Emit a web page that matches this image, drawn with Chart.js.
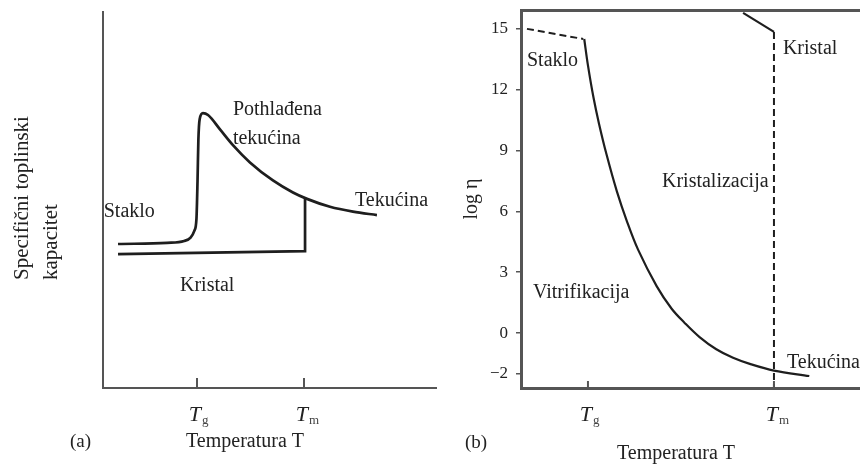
<!DOCTYPE html>
<html><head><meta charset="utf-8">
<script src="https://cdn.jsdelivr.net/npm/chart.js@4.4.1/dist/chart.umd.min.js"></script>
<style>
html,body{margin:0;padding:0;background:#fff;width:860px;height:469px;overflow:hidden;}
#wa{position:absolute;left:0;top:0;width:440px;height:469px;}
#wb{position:absolute;left:440px;top:0;width:420px;height:469px;}
canvas{display:block;}
</style></head><body>
<div id="wa"><canvas id="ca" width="440" height="469"></canvas></div>
<div id="wb"><canvas id="cb" width="420" height="469"></canvas></div>
<script>
// ---------- DATA ----------
// characteristic temperatures on the x axis (T_g, T_m)
const tempTicks = [1, 2];
const tempTickSubs = ['g', 'm'];

// Panel (a): specific heat capacity (arbitrary units) vs temperature
const glassTempA = [0.262, 0.72, 0.88, 0.94, 0.975, 0.995, 1.005, 1.013, 1.025, 1.056, 1.103, 1.215, 1.336, 1.495, 1.71, 1.897, 2.028, 2.243, 2.458, 2.682];
const glassCpA   = [38.3, 38.6, 39.1, 40.0, 41.8, 45.0, 55.0, 66.0, 71.5, 73.1, 72.6, 68.8, 64.6, 60.0, 55.2, 52.0, 50.3, 48.2, 46.9, 46.0];
const crystalTempA = [0.262, 2.01, 2.01];
const crystalCpA   = [35.6, 36.4, 50.3];

// Panel (b): log viscosity vs temperature
const logEtaTicks = [-2, 0, 3, 6, 9, 12, 15];
const glassTempB = [0.672, 0.975];
const glassEtaB  = [15.0, 14.5];
const liquidTempB = [0.98, 1.0, 1.03, 1.06, 1.10, 1.155, 1.21, 1.27, 1.37, 1.45, 1.52, 1.60, 1.69, 1.78, 1.87, 2.0, 2.19];
const liquidEtaB  = [14.5, 13.2, 11.6, 10.3, 8.8, 7.0, 5.5, 4.1, 2.3, 1.2, 0.5, -0.2, -0.8, -1.22, -1.52, -1.85, -2.12];
const crystalTempB = [1.834, 2.0];
const crystalEtaB  = [15.79, 14.85];
const meltTempB = [2.0, 2.0];
const meltEtaB  = [14.85, -2.71];

// ---------- STYLE ----------
const FONT = '"Liberation Serif", "Times New Roman", serif';
const INK = '#222';
const LINE = '#1e1e1e';
const AXIS = '#555';

const pts = (xs, ys) => xs.map((x, i) => ({x, y: ys[i]}));
const zeroPad = s => { s.paddingLeft = 0; s.paddingRight = 0; s.paddingTop = 0; s.paddingBottom = 0; };
const line = (xs, ys, extra) => Object.assign({
  data: pts(xs, ys), showLine: true, pointRadius: 0, borderColor: LINE,
  borderWidth: 2.5, fill: false, tension: 0
}, extra || {});
const bare = (min, max, width, extra) => Object.assign({
  type: 'linear', min, max,
  ticks: {display: false}, grid: {display: false, drawTicks: false},
  border: {display: true, color: AXIS, width}, afterFit: zeroPad
}, extra || {});

function drawText(ctx, text, x, y, size, opts) {
  opts = opts || {};
  ctx.font = (opts.italic ? 'italic ' : '') + size + 'px ' + FONT;
  ctx.textAlign = opts.align || 'left';
  ctx.textBaseline = opts.baseline || 'middle';
  ctx.fillStyle = opts.color || INK;
  ctx.fillText(text, x, y);
}

function tempAxisPlugin(tickLen, labels, extras) {
  return {
    id: 'annot',
    afterDraw(chart) {
      const {ctx, chartArea} = chart;
      const xs = chart.scales.x, ys = chart.scales.y;
      ctx.save();
      // inward ticks and T_g / T_m labels
      ctx.strokeStyle = AXIS; ctx.lineWidth = 2;
      tempTicks.forEach((t, i) => {
        const px = xs.getPixelForValue(t);
        ctx.beginPath();
        ctx.moveTo(px, chartArea.bottom);
        ctx.lineTo(px, chartArea.bottom - tickLen);
        ctx.stroke();
        drawText(ctx, 'T', px + 4, chartArea.bottom + 33, 22, {italic: true, align: 'right', baseline: 'alphabetic'});
        drawText(ctx, tempTickSubs[i], px + 5, chartArea.bottom + 36, 13, {baseline: 'alphabetic', color: '#444'});
      });
      // in-plot labels positioned in data coordinates
      labels.forEach(l => {
        drawText(ctx, l.text, xs.getPixelForValue(l.x), ys.getPixelForValue(l.y), 20);
      });
      extras(ctx, chartArea);
      ctx.restore();
    }
  };
}

// ---------- PANEL (a) ----------
const labelsA = [
  {text: 'Staklo', x: 0.128, y: 46.8},
  {text: 'Pothlađena', x: 1.336, y: 73.9},
  {text: 'tekućina', x: 1.336, y: 66.2},
  {text: 'Tekućina', x: 2.477, y: 49.7},
  {text: 'Kristal', x: 0.841, y: 27.1}
];
new Chart(document.getElementById('ca'), {
  type: 'scatter',
  data: {datasets: [
    line(glassTempA, glassCpA, {cubicInterpolationMode: 'monotone', borderWidth: 2.7}),
    line(crystalTempA, crystalCpA, {borderWidth: 2.7})
  ]},
  options: {
    responsive: false, animation: false, events: [],
    layout: {padding: {left: 103, right: 4, top: 12, bottom: 81}},
    plugins: {legend: {display: false}, tooltip: {enabled: false}},
    scales: {
      x: bare(0.1215, 3.234, 2),
      y: bare(0, 100, 2)
    }
  },
  plugins: [tempAxisPlugin(10, labelsA, (ctx, ca) => {
    ctx.save();
    ctx.translate(22, 280);
    ctx.rotate(-Math.PI / 2);
    drawText(ctx, 'Specifični toplinski', 0, 0, 21);
    drawText(ctx, 'kapacitet', 0, 29, 21);
    ctx.restore();
    drawText(ctx, '(a)', 70, 442, 19);
    drawText(ctx, 'Temperatura T', 245, 442, 20, {align: 'center'});
  })]
});

// ---------- PANEL (b) ----------
const labelsB = [
  {text: 'Staklo', x: 0.672, y: 13.42},
  {text: 'Kristal', x: 2.048, y: 14.0},
  {text: 'Kristalizacija', x: 1.398, y: 7.45},
  {text: 'Vitrifikacija', x: 0.704, y: 1.97},
  {text: 'Tekućina', x: 2.07, y: -1.45}
];
new Chart(document.getElementById('cb'), {
  type: 'scatter',
  data: {datasets: [
    line(glassTempB, glassEtaB, {borderDash: [7, 4], borderWidth: 2}),
    line(liquidTempB, liquidEtaB, {tension: 0.35, borderWidth: 2.2}),
    line(crystalTempB, crystalEtaB, {borderWidth: 2.2}),
    line(meltTempB, meltEtaB, {borderDash: [7, 4], borderWidth: 2})
  ]},
  options: {
    responsive: false, animation: false, events: [],
    layout: {padding: {left: 20, right: 0, top: 10, bottom: 81}},
    plugins: {legend: {display: false}, tooltip: {enabled: false}},
    scales: {
      x: bare(0.64, 2.4626, 3),
      xTop: bare(0.64, 2.4626, 3, {axis: 'x', position: 'top'}),
      y: {
        type: 'linear', min: -2.71, max: 15.93,
        afterBuildTicks: s => { s.ticks = logEtaTicks.map(v => ({value: v})); },
        ticks: {
          color: INK, padding: 8, autoSkip: false,
          font: {family: FONT, size: 17},
          callback: v => (v < 0 ? '\u2212' + Math.abs(v) : String(v))
        },
        grid: {display: true, drawOnChartArea: false, drawTicks: true, tickLength: 5, color: AXIS, lineWidth: 1.5},
        border: {display: true, color: AXIS, width: 3},
        title: {display: true, text: 'log η', color: INK, font: {family: FONT, size: 20}, padding: {top: 0, bottom: 0}},
        afterFit: s => { s.width = 61; s.paddingTop = 0; s.paddingBottom = 0; }
      }
    }
  },
  plugins: [tempAxisPlugin(7, labelsB, (ctx, ca) => {
    drawText(ctx, '(b)', 25, 443, 19);
    drawText(ctx, 'Temperatura T', 236, 454, 20, {align: 'center'});
  })]
});
</script>
</body></html>
